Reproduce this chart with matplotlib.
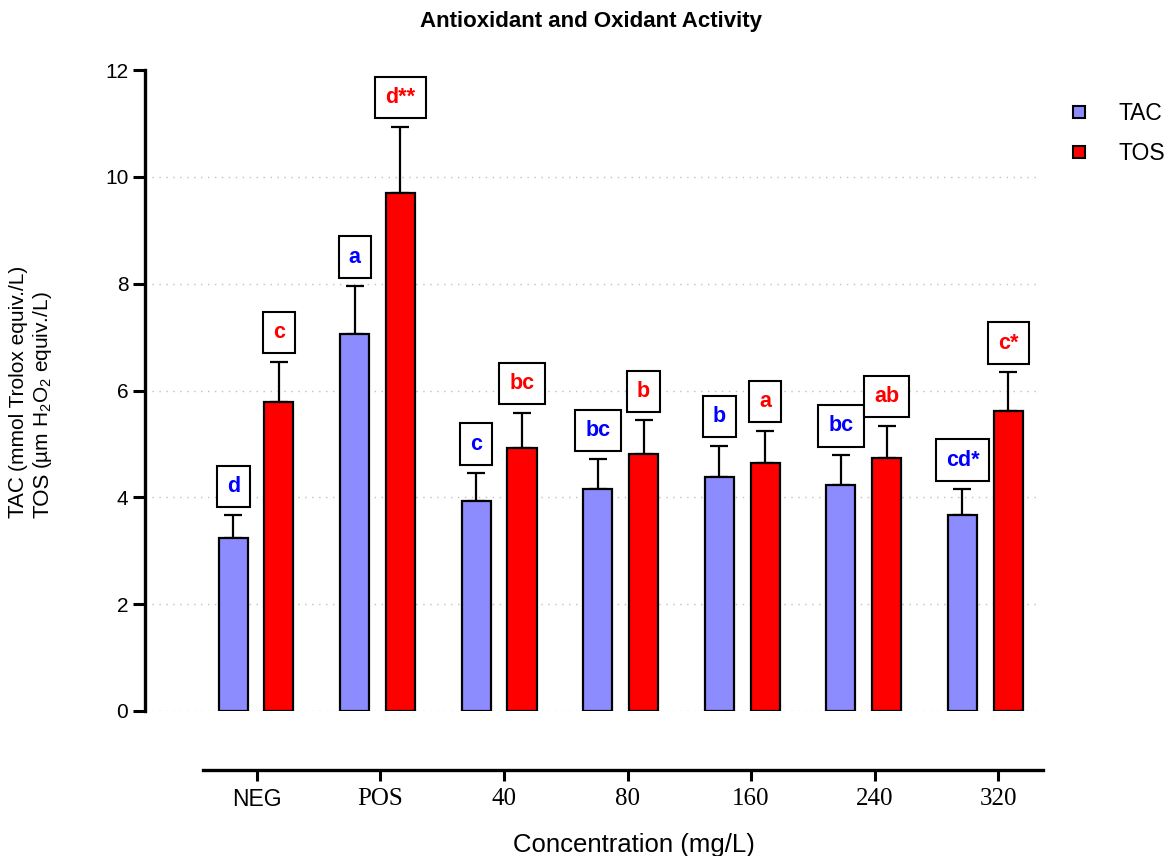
import matplotlib
matplotlib.use("Agg")
import matplotlib.pyplot as plt
from matplotlib.lines import Line2D
import numpy as np

# data
groups = ["NEG", "POS", "40", "80", "160", "240", "320"]
tac_mean = [3.23, 7.05, 3.94, 4.16, 4.39, 4.24, 3.67]
tac_err = [0.43, 0.90, 0.51, 0.55, 0.57, 0.55, 0.48]
tos_mean = [5.78, 9.69, 4.93, 4.82, 4.64, 4.73, 5.61]
tos_err = [0.76, 1.25, 0.65, 0.62, 0.61, 0.61, 0.73]
tac_labels = ["d", "a", "c", "bc", "b", "bc", "cd*"]
tos_labels = ["c", "d**", "bc", "b", "a", "ab", "c*"]

W, H = 1171, 856
fig = plt.figure(figsize=(W / 100, H / 100), dpi=100)
plt.rcParams['font.family'] = ['Liberation Sans', 'DejaVu Sans']

def fx(px):
    return px / W

def fy(py):
    return 1 - py / H

# main axes: left spine at x=145, y=0 at 711, y=12 at 70
ax = fig.add_axes([fx(145), fy(711), fx(1040 - 145), (711 - 70) / H])
x = np.arange(len(groups))
bw = 0.239
off = 0.188
ax.bar(x - off, tac_mean, bw, color="#8c8cff", edgecolor="black", linewidth=1.6, zorder=3)
ax.bar(x + off, tos_mean, bw, color="#ff0000", edgecolor="black", linewidth=1.6, zorder=3)
ax.errorbar(x - off, tac_mean, yerr=[np.zeros(len(x)), tac_err], fmt="none",
            ecolor="black", elinewidth=1.6, capsize=6.5, capthick=1.6, zorder=2)
ax.errorbar(x + off, tos_mean, yerr=[np.zeros(len(x)), tos_err], fmt="none",
            ecolor="black", elinewidth=1.6, capsize=6.5, capthick=1.6, zorder=2)

# letter boxes above the error bars
for i in range(len(x)):
    for xx, top, lab, col in [(x[i] - off, tac_mean[i] + tac_err[i], tac_labels[i], "#0000ff"),
                              (x[i] + off, tos_mean[i] + tos_err[i], tos_labels[i], "#ff0000")]:
        ax.annotate(lab, xy=(xx, top), xytext=(0, 13.5), textcoords="offset points",
                    ha="center", va="bottom", fontsize=15.5, fontweight="bold", color=col,
                    bbox=dict(boxstyle="square,pad=0.47", fc="white", ec="black", lw=1.5),
                    zorder=5)

ax.set_xlim(-0.914, 6.45)
ax.set_ylim(0, 12)
ax.set_yticks([0, 2, 4, 6, 8, 10, 12])
ax.tick_params(axis="y", labelsize=15, length=9, width=2.2, pad=3)
ax.set_xticks([])
for s in ["top", "right", "bottom"]:
    ax.spines[s].set_visible(False)
ax.spines["left"].set_linewidth(2.4)
ax.grid(axis="y", linestyle=(0, (1, 4)), color="#c0c0c0", linewidth=1, zorder=0)
ax.get_ygridlines()[-1].set_visible(False)
ax.set_facecolor("none")

# separate category axis below the plot (Prism style)
ax2 = fig.add_axes([fx(203), fy(770), fx(1043 - 203), 0.001])
ax2.set_xlim(-0.437, 6.364)
ax2.set_xticks(x)
ax2.set_xticklabels(groups)
for s in ["top", "right", "left"]:
    ax2.spines[s].set_visible(False)
ax2.spines["bottom"].set_linewidth(2.4)
ax2.set_yticks([])
ax2.tick_params(axis="x", length=8, width=2.2, pad=5)
for t in ax2.get_xticklabels():
    if t.get_text() == "NEG":
        t.set_family("Liberation Sans")
        t.set_fontsize(16.5)
    else:
        t.set_family("Liberation Serif")
        t.set_fontsize(18)
ax2.patch.set_visible(False)

fig.text(fx(634), fy(845), "Concentration (mg/L)", ha="center", va="center", fontsize=18.5)
fig.text(fx(591), fy(22), "Antioxidant and Oxidant Activity", ha="center", va="center",
         fontsize=16, fontweight="bold")

# two-line y label with large keyword and smaller parenthetical
fig.canvas.draw()
rend = fig.canvas.get_renderer()
for xpx, key, rest in [(18, "TAC", "(mmol Trolox equiv./L)"),
                       (43, "TOS", r"(µm H$\mathregular{_2}$O$\mathregular{_2}$ equiv./L)")]:
    t1 = fig.text(fx(xpx), fy(518), key, rotation=90, rotation_mode="anchor",
                  ha="left", va="center", fontsize=16)
    bb = t1.get_window_extent(rend)
    fig.text(fx(xpx), (bb.y1 + 4) / H, rest, rotation=90, rotation_mode="anchor",
             ha="left", va="center", fontsize=15)

# legend
handles = [Line2D([], [], marker="s", linestyle="none", markersize=8, markerfacecolor="#8c8cff",
                  markeredgecolor="black", markeredgewidth=1.5),
           Line2D([], [], marker="s", linestyle="none", markersize=8, markerfacecolor="#ff0000",
                  markeredgecolor="black", markeredgewidth=1.5)]
fig.legend(handles, ["TAC", "TOS"], loc="upper left", bbox_to_anchor=(fx(1047), fy(81)),
           frameon=False, fontsize=16.5, handlelength=1.0, handletextpad=1.2, labelspacing=0.75)

fig.savefig("out.png", dpi=100)
